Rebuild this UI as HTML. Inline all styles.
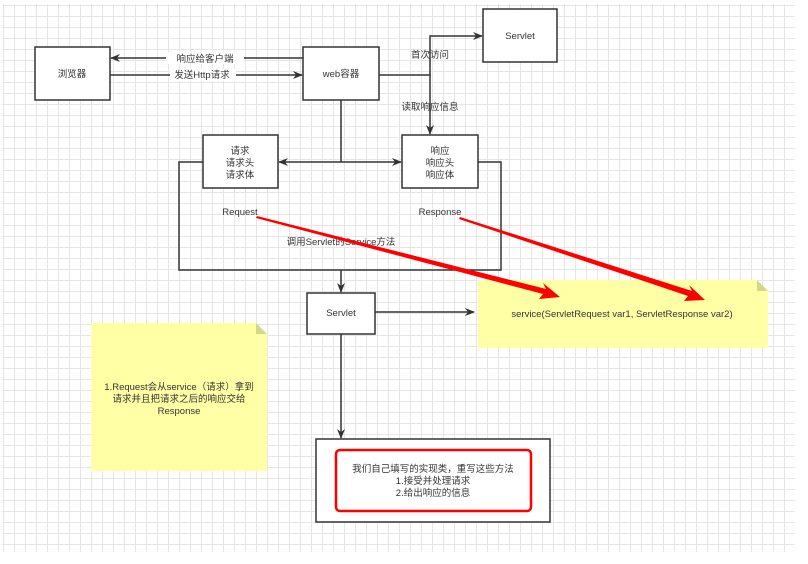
<!DOCTYPE html>
<html><head><meta charset="utf-8"><style>
html,body{margin:0;padding:0;background:#fff;}
body{width:808px;height:564px;overflow:hidden;position:relative;font-family:"Liberation Sans","Noto Sans CJK SC",sans-serif;}
.grid{position:absolute;left:2px;top:4px;width:793px;height:548px;
background-image:linear-gradient(to right,#e6e6e6 1px,transparent 1px),linear-gradient(to bottom,#e6e6e6 1px,transparent 1px);
background-size:11px 11px;background-position:1px 1px;}
svg{position:absolute;left:0;top:0;}
text{font-family:"Liberation Sans","Noto Sans CJK SC",sans-serif;font-size:9.5px;fill:#333;}
</style></head><body>
<div class="grid"></div>
<svg width="808" height="564" viewBox="0 0 808 564">
<defs>
<marker id="a" markerWidth="10" markerHeight="8" refX="9" refY="4" orient="auto" markerUnits="userSpaceOnUse"><path d="M0,0 L10,4 L0,8 L3,4 z" fill="#333"/></marker>
</defs>
<g fill="#fff" stroke="#333" stroke-width="1.5">
<rect x="35" y="47" width="75" height="53"/>
<rect x="303" y="47" width="76" height="53"/>
<rect x="483" y="9" width="74" height="53"/>
<rect x="203" y="135" width="75" height="53"/>
<rect x="402" y="135" width="76" height="53"/>
<rect x="307" y="293" width="68" height="41"/>
<rect x="316" y="439" width="234" height="83"/>
</g>
<g fill="none" stroke="#333" stroke-width="1.5">
<line x1="303" y1="58" x2="111" y2="58" marker-end="url(#a)"/>
<line x1="110" y1="75" x2="302" y2="75" marker-end="url(#a)"/>
<polyline points="379,75 430,75 430,36 482,36" marker-end="url(#a)"/>
<line x1="430" y1="75" x2="430" y2="134" marker-end="url(#a)"/>
<line x1="341" y1="100" x2="341" y2="162"/>
<line x1="341" y1="162" x2="279" y2="162" marker-end="url(#a)"/>
<line x1="341" y1="162" x2="401" y2="162" marker-end="url(#a)"/>
<polyline points="203,162 179,162 179,270 501,270 501,162 478,162"/>
<line x1="341" y1="270" x2="341" y2="292" marker-end="url(#a)"/>
<line x1="375" y1="312" x2="474" y2="312" marker-end="url(#a)"/>
<line x1="341" y1="334" x2="341" y2="438" marker-end="url(#a)"/>
</g>
<rect x="336" y="450" width="195" height="61" rx="4" fill="none" stroke="#f00" stroke-width="2.5"/>
<path d="M478,280 L757,280 L768,291 L768,348 L478,348 z" fill="#ffffa6"/>
<path d="M757,280 L768,291 L757,291 z" fill="#d6d68a"/>
<path d="M91,323 L256,323 L267,334 L267,471 L91,471 z" fill="#ffffa6"/>
<path d="M256,323 L267,334 L256,334 z" fill="#d6d68a"/>
<rect x="166" y="52" width="78" height="12" fill="#fff"/>
<rect x="170" y="69" width="66" height="12" fill="#fff"/>
<text x="35" y="0"></text>
<g text-anchor="middle">
<text x="72" y="77">浏览器</text>
<text x="341" y="77">web容器</text>
<text x="520" y="39">Servlet</text>
<text x="205" y="62">响应给客户端</text>
<text x="202" y="78">发送Http请求</text>
<text x="430" y="58">首次访问</text>
<text x="430" y="110">读取响应信息</text>
<text x="240" y="154">请求</text>
<text x="240" y="166">请求头</text>
<text x="240" y="178">请求体</text>
<text x="440" y="154">响应</text>
<text x="440" y="166">响应头</text>
<text x="440" y="178">响应体</text>
<text x="240" y="215">Request</text>
<text x="440" y="215">Response</text>
<text x="341" y="245">调用Servlet的Service方法</text>
<text x="341" y="316">Servlet</text>
<text x="622" y="317">service(ServletRequest var1, ServletResponse var2)</text>
<text x="179" y="390">1.Request会从service（请求）拿到</text>
<text x="179" y="402">请求并且把请求之后的响应交给</text>
<text x="179" y="414">Response</text>
<text x="433" y="472">我们自己填写的实现类，重写这些方法</text>
<text x="433" y="484">1.接受并处理请求</text>
<text x="433" y="496">2.给出响应的信息</text>
</g>
<g fill="#f00">
<path d="M257,216 L546,289 L543,283 L560,297 L539,299 L543,294 L256,218 z"/>
<path d="M460,217 L692,291 L689,285 L705,300 L684,301 L688,296 L459,219 z"/>
</g>
</svg>
</body></html>
